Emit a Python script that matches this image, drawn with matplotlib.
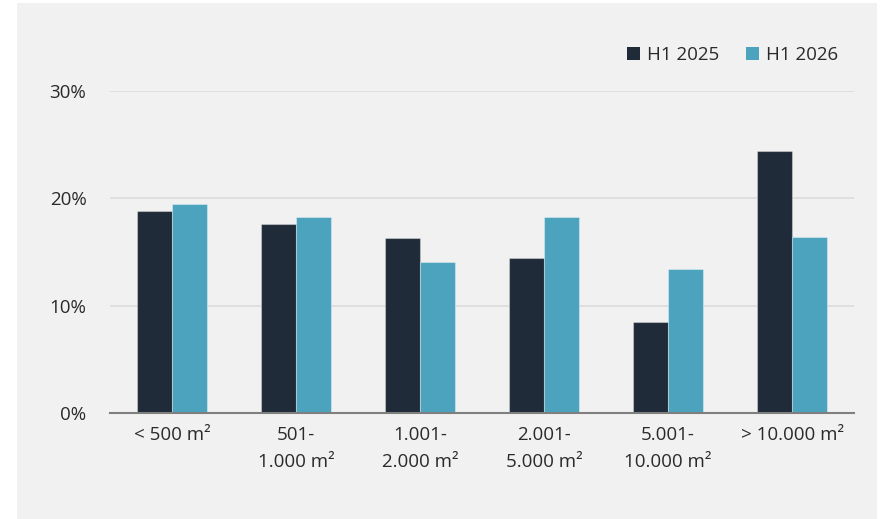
import matplotlib
matplotlib.use("Agg")
import matplotlib.pyplot as plt
import numpy as np
from matplotlib.patches import Rectangle

categories = ["< 500 m²", "501-\n1.000 m²", "1.001-\n2.000 m²", "2.001-\n5.000 m²",
              "5.001-\n10.000 m²", "> 10.000 m²"]
series_names = ["H1 2025", "H1 2026"]
h1_2025 = [18.8, 17.6, 16.3, 14.4, 8.5, 24.4]
h1_2026 = [19.5, 18.3, 14.1, 18.3, 13.4, 16.4]
y_ticks = [0, 10, 20, 30]
y_tick_labels = ["0%", "10%", "20%", "30%"]

dark = "#1f2b38"
teal = "#4ba3bd"
panel = "#f1f1f1"
text_col = "#2a2a2a"

plt.rcParams["font.family"] = ["Open Sans", "DejaVu Sans"]

W, H = 886, 519
fig = plt.figure(figsize=(W / 100, H / 100), dpi=100)
fig.patch.set_facecolor("white")
fig.patches.append(Rectangle((17 / W, 0), (877 - 17) / W, (H - 3) / H,
                             transform=fig.transFigure, facecolor=panel,
                             edgecolor="none", zorder=-10))

ax = fig.add_axes([110 / W, (H - 413) / H, (854 - 110) / W, (413 - 91) / H])
ax.set_facecolor("none")

x = np.arange(len(categories))
bw = 0.282
ax.bar(x - bw / 2, h1_2025, width=bw, color=dark, edgecolor=(1, 1, 1, 0.35),
       linewidth=0.8, label=series_names[0], zorder=3)
ax.bar(x + bw / 2, h1_2026, width=bw, color=teal, edgecolor=(1, 1, 1, 0.35),
       linewidth=0.8, label=series_names[1], zorder=3)

ax.set_xlim(-0.5, len(categories) - 0.5)
ax.set_ylim(0, 30)
ax.set_yticks(y_ticks)
ax.set_yticklabels(y_tick_labels)
ax.set_xticks(x)
ax.set_xticklabels(categories, linespacing=1.7)

ax.grid(axis="y", color="#dcdcdc", linewidth=1.2, zorder=0)
ax.set_axisbelow(True)
for s in ["top", "right", "left"]:
    ax.spines[s].set_visible(False)
ax.spines["bottom"].set_color("#7f7f7f")
ax.spines["bottom"].set_linewidth(1.5)
ax.spines["bottom"].set_zorder(4)

ax.tick_params(axis="both", length=0, labelsize=13.5, colors=text_col)
ax.tick_params(axis="y", pad=17)
ax.tick_params(axis="x", pad=9)

leg = fig.legend(loc="upper right", bbox_to_anchor=(855 / W, (H - 29) / H),
                 ncol=2, frameon=False, fontsize=13.5, handlelength=0.7,
                 handleheight=0.7, handletextpad=0.35, columnspacing=1.45,
                 labelcolor=text_col)
for h in leg.legend_handles:
    h.set_edgecolor("none")

fig.savefig("out.png", dpi=100, facecolor=fig.get_facecolor())
